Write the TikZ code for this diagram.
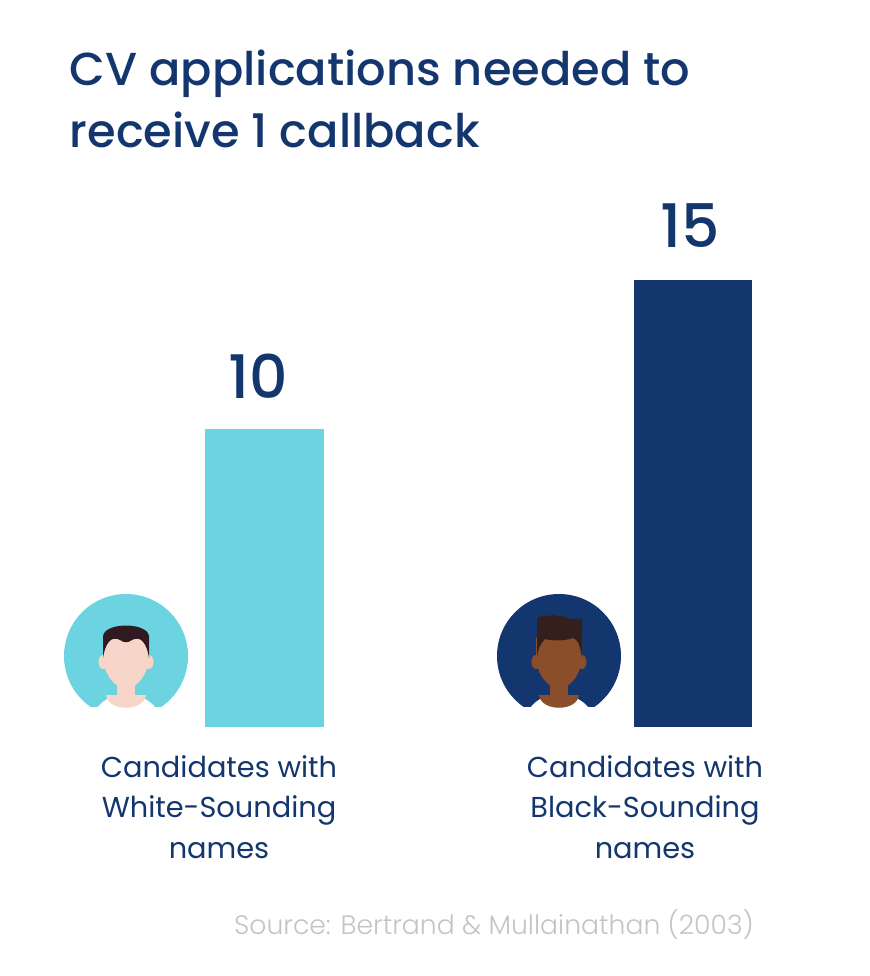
\documentclass[tikz,border=0pt]{standalone}
\usepackage{fontspec}
\setmainfont{Poppins}
\newfontfamily\poppinsmed{Poppins}[UprightFont={* Medium}]
\newfontfamily\poppinslight{Poppins}[UprightFont={* Light}]
\definecolor{navy}{HTML}{14366E}
\definecolor{cyan}{HTML}{6BD4E0}
\definecolor{srcgray}{HTML}{C4C4C4}
\definecolor{skinlight}{HTML}{F8D5C9}
\definecolor{skindark}{HTML}{8B4E2B}
\definecolor{hairdark}{HTML}{33201C}
\definecolor{hairlight}{HTML}{2E1A20}
\tikzset{
  num/.style={font=\fontsize{45}{45}\selectfont\poppinsmed, text=navy},
  lbl/.style={font=\fontsize{21.6}{30.5}\selectfont, text=navy, align=center},
}
% avatar: centre, back colour, skin, hair path
\newcommand{\avatar}[4]{%
  \begin{scope}[shift={#1}]
    \begin{scope}
      \clip (-62,-62) rectangle (62,50);
      \fill[#2] (0,0) circle (62);
    \end{scope}
    \fill[white] (-33,61) .. controls (-28,44) and (-14,39) .. (0,39) .. controls (14,39) and (28,44) .. (35,61) -- cycle;
    \fill[#3] (-20,39) .. controls (-18,56) and (18,56) .. (20,39) -- cycle;
    \fill[#3] (-9,25) rectangle (9,40);
    \fill[#3] (-23,6) ellipse (4.5 and 7);
    \fill[#3] (23,6) ellipse (4.5 and 7);
    \fill[#3] (-23,-18) -- (23,-18) -- (23,5) .. controls (19,24) and (9,32) .. (0,32)
      .. controls (-9,32) and (-19,24) .. (-23,5) -- cycle;
    #4
  \end{scope}}
\begin{document}
\begin{tikzpicture}[x=0.75pt,y=-0.75pt]
\useasboundingbox (0,0) rectangle (870,976);
% title
\node[anchor=west, text=navy, font=\fontsize{34.7}{47}\selectfont\poppinsmed, align=left] (title) at (65,99)
  {CV applications needed to\\receive 1 callback};
% bars
\fill[cyan] (205,429) rectangle (324,727);
\fill[navy] (634,280) rectangle (752,727);
\node[num] (white) at (258,376) {10};
\node[num] (black) at (690,226) {15};
% avatars
\avatar{(126,656)}{cyan}{skinlight}{%
  \fill[hairlight] (-23,2) -- (-23,-20) .. controls (-21,-34) and (21,-34) .. (23,-20) -- (23,2)
    .. controls (21,-12) and (15,-21) .. (6,-16) .. controls (2,-13) and (-2,-13) .. (-6,-16)
    .. controls (-15,-21) and (-21,-12) .. (-23,2) -- cycle;}
\avatar{(559,656)}{navy}{skindark}{%
  \fill[hairdark] (-22,2) -- (-22,-38) .. controls (-16,-42) and (-10,-39) .. (-6,-41)
    .. controls (0,-39) and (6,-41) .. (10,-37) .. controls (14,-39) and (18,-35) .. (23,-38)
    -- (23,2) .. controls (21,-12) and (18,-17) .. (14,-18) .. controls (6,-15) and (-6,-15) .. (-14,-17)
    .. controls (-18,-13) and (-21,-8) .. (-22,2) -- cycle;}
% labels
\node[lbl] (lw) at (219,807) {Candidates with\\White-Sounding\\names};
\node[lbl] (lb) at (645,807) {Candidates with\\Black-Sounding\\names};
\node[font=\fontsize{20}{22}\selectfont\poppinslight, text=srcgray] (src) at (494,925) {Source: Bertrand \& Mullainathan (2003)};
\end{tikzpicture}
\end{document}
